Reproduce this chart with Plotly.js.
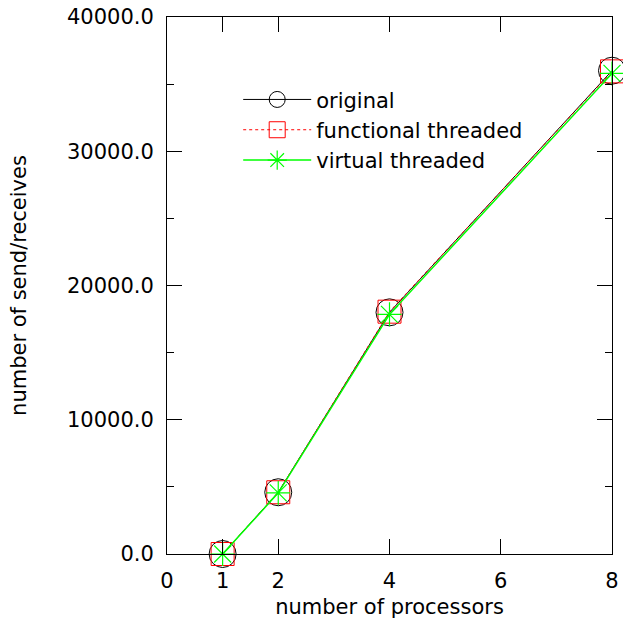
<!DOCTYPE html>
<html>
<head>
<meta charset="utf-8">
<script src="https://cdn.plot.ly/plotly-3.0.1.min.js"></script>
<style>html,body{margin:0;padding:0;background:#fff;}</style>
</head>
<body>
<div id="chart" style="width:623px;height:619px;"></div>
<script>
var processors = [1, 2, 4, 8];
var original = [0, 4600, 18000, 36000];
var functionalThreaded = [0, 4600, 18050, 35950];
var virtualThreaded = [0, 4550, 17850, 35800];
var seriesNames = ['original', 'functional threaded', 'virtual threaded'];
var xTickVals = [0, 1, 2, 4, 6, 8];
var yTickVals = [0, 10000, 20000, 30000, 40000];

var FONT = 'DejaVu Sans, Arial, sans-serif';

var traces = [
  {x: processors, y: original, name: seriesNames[0], type: 'scatter', mode: 'lines+markers', cliponaxis: false,
   line: {color: '#000000', width: 1},
   marker: {symbol: 'circle-open', size: 27, color: '#000000', line: {width: 1, color: '#000000'}}},
  {x: processors, y: functionalThreaded, name: seriesNames[1], type: 'scatter', mode: 'lines+markers', cliponaxis: false,
   line: {color: '#ff0000', width: 1, dash: 'dot'},
   marker: {symbol: 'square-open', size: 23, color: '#ff0000', line: {width: 1, color: '#ff0000'}}},
  {x: processors, y: virtualThreaded, name: seriesNames[2], type: 'scatter', mode: 'lines+markers', cliponaxis: false,
   line: {color: '#00ff00', width: 1.5},
   marker: {symbol: 'asterisk-open', size: 20, color: '#00ff00', line: {width: 1.2, color: '#00ff00'}}}
];

var layout = {
  width: 623, height: 619,
  margin: {l: 167, r: 11, t: 17, b: 65},
  paper_bgcolor: '#ffffff', plot_bgcolor: '#ffffff',
  font: {family: FONT, size: 21, color: '#000000'},
  showlegend: true,
  legend: {x: 0.16, y: 0.884, xanchor: 'left', yanchor: 'top',
           bgcolor: 'rgba(255,255,255,0)', borderwidth: 0,
           font: {family: FONT, size: 21, color: '#000000'},
           itemwidth: 68, tracegroupgap: 0},
  xaxis: {
    range: [0, 8], tickmode: 'array', tickvals: xTickVals,
    showgrid: false, zeroline: false,
    showline: true, linecolor: '#000000', linewidth: 1, mirror: 'allticks',
    ticks: 'inside', ticklen: 15, tickwidth: 1, tickcolor: '#000000',
    ticklabelstandoff: 8,
    tickfont: {family: FONT, size: 21},
    title: {text: 'number of processors', font: {family: FONT, size: 21}, standoff: 12}
  },
  yaxis: {
    range: [0, 40000], tickmode: 'array', tickvals: yTickVals, tickformat: '.1f',
    showgrid: false, zeroline: false,
    showline: true, linecolor: '#000000', linewidth: 1, mirror: 'allticks',
    ticks: 'inside', ticklen: 15, tickwidth: 1, tickcolor: '#000000',
    ticklabelstandoff: 8,
    minor: {dtick: 5000, ticks: 'inside', ticklen: 7, tickwidth: 1, tickcolor: '#000000', showgrid: false},
    tickfont: {family: FONT, size: 21},
    title: {text: 'number of send/receives', font: {family: FONT, size: 21}, standoff: 34}
  }
};

Plotly.newPlot('chart', traces, layout, {displayModeBar: false, staticPlot: true});
</script>
</body>
</html>
